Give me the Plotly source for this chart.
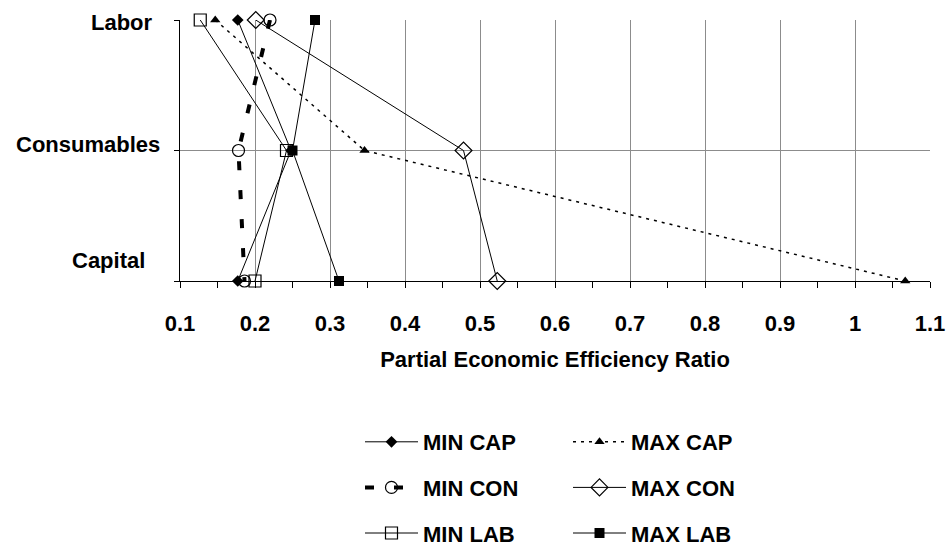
import plotly.graph_objects as go

# ---- data ----
stages = ["Labor", "Consumables", "Capital"]
series_names = ["MIN CAP", "MAX CAP", "MIN CON", "MAX CON", "MIN LAB", "MAX LAB"]
min_cap = [0.177, 0.248, 0.177]
max_cap = [0.147, 0.346, 1.067]
min_con = [0.220, 0.178, 0.186]
max_con = [0.201, 0.478, 0.523]
min_lab = [0.127, 0.242, 0.200]
max_lab = [0.280, 0.250, 0.312]
x_title = "Partial Economic Efficiency Ratio"

values = [min_cap, max_cap, min_con, max_con, min_lab, max_lab]

# ---- styles ----
FONT = "Liberation Sans, Arial, sans-serif"
styles = [
    dict(line=dict(color="black", width=1), marker=dict(symbol="diamond", size=9, color="black"), legend="legend"),
    dict(line=dict(color="black", width=1.5, dash="3px,5px"), marker=dict(symbol="triangle-up", size=9, color="black"), legend="legend2"),
    dict(line=dict(color="black", width=4, dash="9px,20px"), marker=dict(symbol="circle-open", size=12, color="black", line=dict(width=1.2)), legend="legend"),
    dict(line=dict(color="black", width=1), marker=dict(symbol="diamond-open", size=13, color="black", line=dict(width=1.2)), legend="legend2"),
    dict(line=dict(color="black", width=1), marker=dict(symbol="square-open", size=12, color="black", line=dict(width=1.2)), legend="legend"),
    dict(line=dict(color="black", width=1), marker=dict(symbol="square", size=10, color="black"), legend="legend2"),
]

fig = go.Figure()
for i, (name, vals, st) in enumerate(zip(series_names, values, styles)):
    fig.add_trace(go.Scatter(
        x=vals, y=stages, name=name, mode="lines+markers",
        line=st["line"], marker=st["marker"], cliponaxis=False,
        legend=st["legend"], legendgroup=name,
    ))

label_style = {  # (xshift of right edge from axis, yshift)
    "Labor": (-25, -2),
    "Consumables": (-18, 6),
    "Capital": (-33, 21),
}
for s in stages:
    xs, ys = label_style[s]
    fig.add_annotation(text=s, xref="paper", x=0, yref="y", y=s, xanchor="right",
                       yanchor="middle", xshift=xs, yshift=ys, showarrow=False,
                       font=dict(family=FONT, size=22, color="black", weight="bold"))

grid = "#8c8c8c"
legend_common = dict(orientation="v", yanchor="top", xanchor="left",
                     font=dict(family=FONT, size=22, color="black", weight="bold"),
                     itemwidth=53, tracegroupgap=14, bgcolor="rgba(0,0,0,0)",
                     traceorder="grouped", itemclick=False)

fig.update_layout(
    width=948, height=548,
    margin=dict(l=180, r=18, t=20, b=267, autoexpand=False),
    paper_bgcolor="white", plot_bgcolor="white",
    font=dict(family=FONT, size=22, color="black", weight="bold"),
    xaxis=dict(range=[0.1, 1.1], tick0=0.1, dtick=0.1, ticks="outside", ticklen=6,
               tickcolor="black", showline=True, linecolor="black", linewidth=1,
               showgrid=True, gridcolor=grid, gridwidth=1, zeroline=False, automargin=False,
               minor=dict(ticks="outside", dtick=0.05, tick0=0.1, ticklen=6, tickcolor="black", showgrid=False),
               tickfont=dict(family=FONT, size=22, color="black", weight="bold"),
               ticklabelstandoff=17,
               title=dict(text=x_title, standoff=16,
                          font=dict(family=FONT, size=22, color="black", weight="bold"))),
    xaxis2=dict(range=[0.1, 1.1], overlaying="x", anchor="y", side="bottom",
                tick0=0.1, dtick=0.05, ticks="inside", ticklen=6, tickcolor="black",
                showticklabels=False, showgrid=False, showline=False, zeroline=False,
                automargin=False),
    yaxis=dict(type="category", categoryarray=stages[::-1], range=[0, 2],
               showticklabels=False, ticks="outside", ticklen=5, tickcolor="black",
               showline=True, linecolor="black", linewidth=1, automargin=False,
               showgrid=True, gridcolor=grid, gridwidth=1, zeroline=False),
    legend=dict(x=(360 - 180) / 750, y=(281 - 421) / 261, **legend_common),
    legend2=dict(x=(568 - 180) / 750, y=(281 - 421) / 261, **legend_common),
    showlegend=True,
)

fig.write_html("out.html")
